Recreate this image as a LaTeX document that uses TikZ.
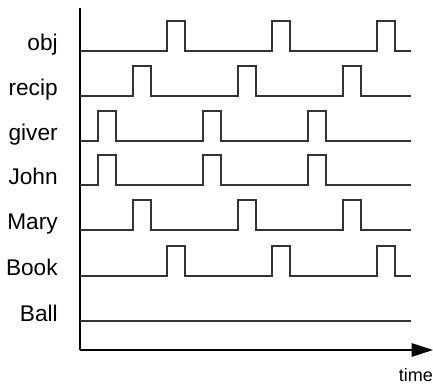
\documentclass[tikz,border=0pt]{standalone}
\usepackage{fontspec}
\setmainfont{Liberation Sans}
\usetikzlibrary{arrows.meta}
\begin{document}
\begin{tikzpicture}[x=0.75pt,y=-0.75pt,line width=1.3pt,
  signal/.style={draw=black!80},
  sig/.style={anchor=base east,font=\fontsize{17}{19}\selectfont}]
\useasboundingbox (0,0) rectangle (433,385);
\coordinate (top) at (80,8);
\coordinate (orig) at (80,350);
\coordinate (tip) at (433,350);
\draw (top) -- (orig);
\draw[-{Triangle[length=16pt,width=10pt]}] (orig) -- (tip);
\node[anchor=base west,inner sep=0pt,font=\fontsize{13.5}{16}\selectfont] (time) at (398,382) {time};
% signals: name / baseline / first pulse
\foreach \name/\y/\o in {obj/51/167,recip/96/133,giver/141/98,John/185/98,Mary/230/133,Book/276/167}{
  \node[sig] (\name) at (63,\y) {\name};
  \draw[signal] (80,\y) \foreach \k in {0,1,2}{ -- ({\o+105*\k},\y) -- ++(0,-30) -- ++(18,0) -- ++(0,30)} -- (411,\y);
}
\node[sig] (Ball) at (63,321) {Ball};
\draw[signal] (80,321) -- (411,321);
\end{tikzpicture}
\end{document}
